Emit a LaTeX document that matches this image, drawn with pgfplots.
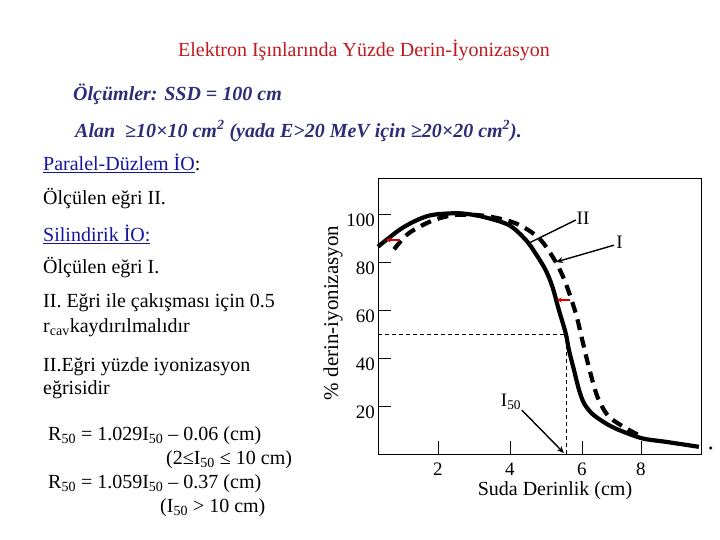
\documentclass[border=0pt]{standalone}
\usepackage{pgfplots}
\pgfplotsset{compat=1.18}
\usepackage{fontspec}
\setmainfont{Liberation Serif}
\usetikzlibrary{arrows.meta}
\definecolor{titlered}{RGB}{190,25,30}
\definecolor{navytext}{RGB}{45,45,120}
\definecolor{linkblue}{RGB}{20,20,160}

% solid curve (II) and dashed curve (I)
\pgfplotstableread{
x y
0.333 86.4
0.92 93.3
1.38 97.2
1.84 99.6
2.58 100.3
3.23 98.9
3.97 95.4
4.44 89.2
4.71 83.6
4.99 76.7
5.18 69.7
5.36 60.0
5.55 50.3
5.64 43.3
5.78 35.0
5.92 26.7
6.06 21.1
6.29 16.7
6.66 12.8
7.03 10.0
7.68 6.5
8.32 5.1
9.25 3.0
}\curveII
\pgfplotstableread{
x y
0.78 85.3
1.19 92.0
1.84 97.2
2.49 99.6
3.32 99.2
4.16 96.1
4.81 89.9
5.27 80.1
5.55 71.1
5.83 58.6
6.01 47.5
6.19 36.4
6.43 23.9
6.75 15.6
7.31 10.0
7.68 7.2
}\curveI

\begin{document}
\begin{tikzpicture}
\path[use as bounding box] (0pt,0pt) rectangle (720pt,540pt);

\begin{axis}[
  at={(378pt,86pt)}, anchor=south west,
  width=323pt, height=276pt, scale only axis,
  xmin=0.333, xmax=9.31, ymin=0, ymax=115,
  xtick={2,4,6,7.64}, xticklabels={2,4,6,8},
  ytick={20,40,60,80,100},
  xtick pos=bottom, ytick pos=left,
  tick align=inside, major tick length=13pt,
  tick style={black, line width=0.8pt},
  axis line style={line width=0.9pt},
  ticklabel style={font=\fontsize{19}{19}\selectfont},
  /pgf/number format/assume math mode=true,
  yticklabel style={inner sep=0pt, xshift=-3pt, yshift=-6pt},
  xticklabel style={inner sep=0pt, yshift=-9pt},
  xlabel={Suda Derinlik (cm)},
  xlabel style={at={(axis description cs:0.548,-0.134)}, anchor=center, inner sep=0pt, font=\fontsize{20}{20}\selectfont},
  ylabel={\% derin-iyonizasyon},
  ylabel style={at={(axis description cs:-0.139,0.511)}, anchor=center, inner sep=0pt, font=\fontsize{21}{21}\selectfont},
  clip=false,
]
% 50 % guide lines
\addplot[black, line width=0.7pt, dash pattern=on 4pt off 3pt] coordinates {(0.333,50) (5.58,50)};
\addplot[black, line width=0.7pt, dash pattern=on 4pt off 3pt] coordinates {(5.58,0) (5.58,50)};

\addplot[black, line width=4.2pt, smooth, tension=0.5] table {\curveII};
\addplot[black, line width=4.2pt, smooth, tension=0.5, dash pattern=on 11pt off 7pt] table {\curveI};

% stray dot right of the frame
\addplot[only marks, mark=*, mark size=1.4pt, black] coordinates {(9.58,2.5)};

% red shift arrows
\draw[red!85!black, line width=1.6pt, -{Stealth[length=5pt,width=5pt]}] (axis cs:0.95,89.2) -- (axis cs:0.55,89.2);
\draw[red!85!black, line width=1.6pt, -{Stealth[length=5pt,width=5pt]}] (axis cs:5.66,64.2) -- (axis cs:5.30,64.2);

% annotations
\draw[black, line width=1.4pt] (axis cs:5.83,97.5) -- (axis cs:4.53,87.9);
\node[anchor=west, inner sep=0pt, font=\fontsize{19}{19}\selectfont] at (axis cs:5.85,98.3) {II};
\draw[black, line width=1.4pt, -{Stealth[length=7pt,width=6pt]}] (axis cs:6.89,87) -- (axis cs:5.28,80);
\node[anchor=west, inner sep=0pt, font=\fontsize{19}{19}\selectfont] at (axis cs:6.95,88.3) {I};
\draw[black, line width=1.4pt, -{Stealth[length=7pt,width=6pt]}] (axis cs:4.33,18.3) -- (axis cs:5.50,0.4);
\node[inner sep=0pt, font=\fontsize{19}{19}\selectfont] at (axis cs:4.03,21.7) {I\textsubscript{50}};
\end{axis}

% text around the chart
\node[anchor=west, inner sep=0pt, text=titlered, font=\fontsize{20}{20}\selectfont] at (178pt,490pt) {Elektron Işınlarında Yüzde Derin-İyonizasyon};
\node[anchor=west, inner sep=0pt, text=navytext, font=\fontsize{20}{20}\selectfont\bfseries\itshape] at (73pt,446pt) {Ölçümler: SSD = 100 cm};
\node[anchor=west, inner sep=0pt, text=navytext, font=\fontsize{20}{20}\selectfont\bfseries\itshape] at (75pt,409pt) {Alan\ \ ≥10×10 cm\textsuperscript{2} (yada E>20 MeV için ≥20×20 cm\textsuperscript{2}).};

\begin{scope}[every node/.style={anchor=west, inner sep=0pt, font=\fontsize{20}{20}\selectfont}]
\node[text=linkblue] at (43pt,377pt) {\underline{Paralel-Düzlem İO}\textcolor{black}{:}};
\node at (43pt,341pt) {Ölçülen eğri II.};
\node[text=linkblue] at (43pt,306pt) {\underline{Silindirik İO:}};
\node at (43pt,272pt) {Ölçülen eğri I.};
\node at (43pt,237pt) {II. Eğri ile çakışması için 0.5};
\node at (43pt,212pt) {r\textsubscript{cav}kaydırılmalıdır};
\node at (43pt,173pt) {II.Eğri yüzde iyonizasyon};
\node at (43pt,150pt) {eğrisidir};
\end{scope}
\begin{scope}[every node/.style={anchor=west, inner sep=0pt, font=\fontsize{20}{20}\selectfont}]
\node at (48pt,104pt) {R\textsubscript{50} = 1.029I\textsubscript{50} – 0.06 (cm)};
\node at (166pt,80pt) {(2≤I\textsubscript{50} ≤ 10 cm)};
\node at (48pt,56pt) {R\textsubscript{50} = 1.059I\textsubscript{50} – 0.37 (cm)};
\node at (160pt,32pt) {(I\textsubscript{50} > 10 cm)};
\end{scope}
\end{tikzpicture}
\end{document}
